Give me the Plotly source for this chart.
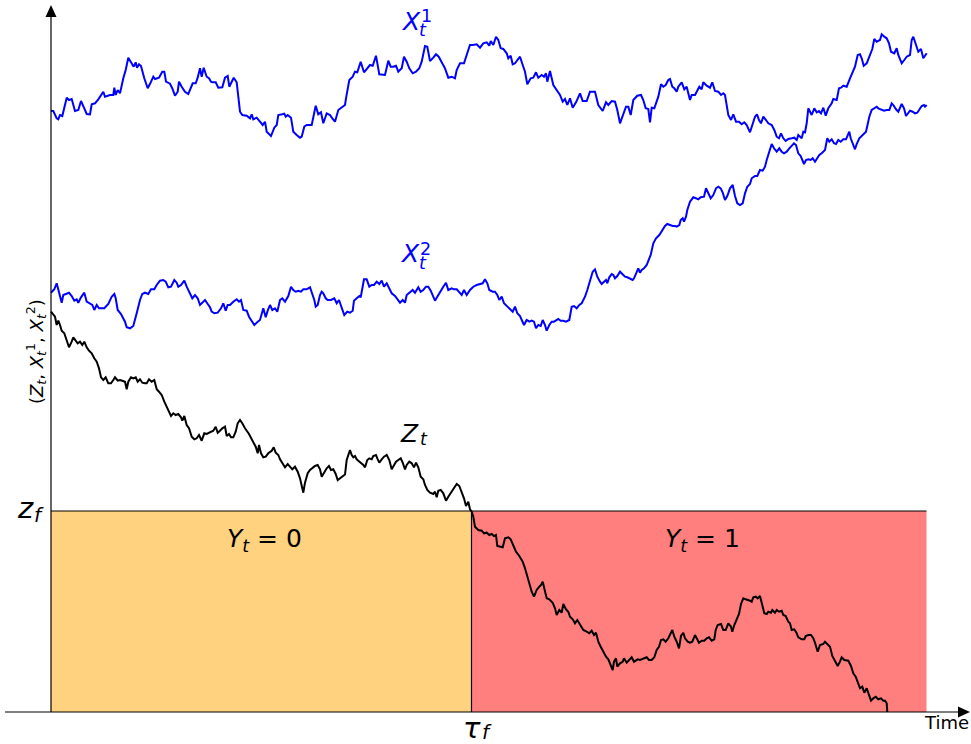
import plotly.graph_objects as go

# Paths as (time step, value); time runs 0..876, value 0 is the time axis
X1_PATH = [
    (0, 601), (2.3, 601), (5.7, 593.7), (7.3, 592.7), (9, 597), (11.3, 596), (15.7, 614.3), (18, 612),
    (20.7, 613), (24, 601), (27.3, 602), (30, 611), (33.3, 603.7), (35.7, 598), (39, 597.7), (40.7, 607.7),
    (44, 608.7), (47.3, 612.7), (52.3, 620.3), (54, 615.3), (59, 617), (62.3, 617), (63.3, 624.3), (64.7, 617),
    (66.7, 622), (69, 618.7), (72.3, 633.7), (74.7, 642), (77.3, 654.3), (80.7, 648.7), (82.7, 645.3),
    (84.7, 649.7), (86, 644.3), (88, 647.7), (90, 646), (93.3, 633.7), (96.7, 623.7), (99.3, 628.7),
    (102.3, 635.3), (104, 633), (108, 634.3), (111.3, 640.3), (113.3, 640.3), (115, 630.3), (119, 628.3),
    (121.3, 623.7), (124, 616.3), (126.7, 620.3), (128, 630.3), (130.7, 625.3), (134, 620.3), (137.3, 618),
    (141.7, 628.7), (144.7, 628.7), (146.7, 634.3), (149, 643.7), (150.7, 635.3), (152.7, 644.3),
    (155.7, 635.3), (158, 633.7), (160, 630.3), (161.3, 629.7), (164.7, 629.7), (167.3, 624.3),
    (171.3, 624.7), (174, 634.3), (176.7, 636), (178.3, 625.3), (180.7, 630.3), (182.7, 634.3),
    (185.7, 629.7), (189, 600.3), (191.3, 597), (195.7, 596.3), (199, 593.7), (200.7, 597.7), (202.3, 592.7),
    (205.7, 594.3), (209, 590.3), (211.7, 587), (214, 590.3), (215.7, 580.3), (220, 576), (223.3, 584.3),
    (225.7, 587), (227.3, 597), (231.3, 597.7), (233.3, 598.3), (234.7, 595.3), (236.7, 597), (240, 594.3),
    (242.3, 580.3), (245.7, 577), (249, 574.3), (250.7, 575.3), (253.3, 585.3), (255.7, 587), (260.7, 587),
    (264.7, 606.3), (267.3, 597.7), (270, 599.7), (272.3, 588.7), (275.7, 598.7), (279, 597), (281.3, 593.7),
    (284, 590.3), (287.3, 602), (290.7, 604.3), (294, 607), (295, 613.7), (298.3, 632), (301.7, 635.3),
    (304, 640.3), (306.3, 639.7), (309.7, 650.3), (313, 639.7), (316.3, 643.7), (319, 647), (321.7, 646.3),
    (325, 656.3), (328.3, 637.7), (334, 637), (337.3, 651.3), (339.7, 645.3), (342.3, 645.3), (345, 646.3),
    (347.3, 640.3), (350.7, 643.7), (353, 655.3), (355.7, 650.3), (358.3, 643.7), (361.7, 638.7), (365, 640.3),
    (368.3, 643.7), (370.7, 650.3), (374, 666), (376.3, 665.3), (379, 651), (382.3, 654.3), (385, 657.7),
    (387.7, 655.3), (390.7, 650.3), (394, 643.7), (397.3, 634.3), (400.7, 635.3), (404, 633.7), (405.7, 642),
    (409, 648.7), (413, 648.7), (417.3, 662), (419, 667), (421.7, 667), (425.7, 667.7), (429, 664.3),
    (432.3, 668.7), (435.7, 669.7), (438.3, 666.3), (439.7, 671), (442.3, 667), (445, 675.3), (447.3, 672),
    (449.7, 663.7), (452.3, 663), (455.7, 658.7), (457.3, 653.7), (459.7, 656.3), (461.7, 647.7), (464, 648.7),
    (467.3, 653.7), (469, 655.3), (471.7, 647), (474, 640.3), (476.3, 627.7), (479.7, 633.7), (482.3, 634.3),
    (485, 639.7), (487.3, 634.3), (490.7, 637), (493, 635.3), (495, 638.7), (496.3, 630.3), (499, 641),
    (502.3, 627), (505.7, 622), (509, 617), (511.7, 610.3), (514, 613), (516.3, 607), (519, 613.7),
    (521.7, 604.3), (525, 609.7), (529, 618.7), (531.7, 611), (535.7, 611), (539, 620.3), (544, 620.3),
    (547.3, 607), (551.7, 601), (555, 609.7), (557.3, 607), (560.7, 611), (564, 610.3), (566.3, 602),
    (569, 588.7), (571.7, 596.3), (575, 605.3), (577.3, 605.3), (579.7, 597), (582.3, 612), (586.3, 616.3),
    (590, 617), (592.3, 612), (594.7, 603.7), (597.3, 603), (599, 589.7), (600.7, 604.3), (603.3, 603.7),
    (605.7, 610.3), (607.3, 615.3), (610, 627.7), (612.3, 625.3), (614.7, 627), (617.3, 632), (619, 633),
    (621.3, 625.3), (623.3, 623.7), (625.7, 620.3), (627.3, 625.3), (630.7, 629.7), (633.3, 622.7),
    (635.7, 625.3), (637.3, 618.7), (639, 612), (640.7, 617), (644, 617), (645.7, 620.3), (648.3, 625.3),
    (650.7, 622.7), (652.3, 629.7), (655.7, 626.3), (659, 624.3), (661.3, 629.7), (664, 621), (667.3, 620.3),
    (670, 617), (672.3, 618.7), (674, 617), (677.3, 597), (680, 592), (682.3, 597.7), (685, 590.3),
    (688, 590.3), (690.7, 587.7), (693.3, 589.7), (695.7, 587), (699, 579.7), (701.3, 587), (704, 595.3),
    (706, 597.7), (708, 592), (710, 588.7), (712.3, 595.3), (715, 592), (717.3, 588.7), (720.7, 587),
    (723.3, 582), (725.7, 575.3), (728, 573.7), (730, 578.7), (732.3, 573.7), (734.7, 571), (737.3, 573),
    (740.7, 573.7), (743.3, 574.3), (745.7, 572), (747.3, 577), (750.7, 573.7), (752.3, 580.3), (754, 579.7),
    (755.7, 588.7), (757.3, 603.7), (759, 599.7), (760.7, 597), (763.3, 603.7), (765.7, 599.7), (768, 601),
    (770, 598.7), (772.3, 604.3), (774.7, 596.3), (777.3, 603.7), (780.7, 608.7), (782.3, 613), (785.7, 612),
    (788, 623.7), (790, 624.3), (792.3, 626.3), (795.7, 625.3), (799, 633.7), (804, 645.3), (806.7, 657),
    (809, 657.7), (810.7, 653.7), (812.7, 646.3), (815.7, 648.7), (819, 657.7), (821.3, 663), (823.3, 673),
    (825.7, 670.3), (829, 672), (830.7, 677.7), (833.3, 675.3), (835.7, 673.7), (838, 668.7), (840, 660.3),
    (843.3, 658.7), (845.7, 663.7), (847.3, 657), (850.7, 648.7), (853.3, 652), (855.7, 655.3), (859, 657),
    (860.7, 672), (862.3, 675.3), (864.7, 667), (867.3, 660.3), (870, 663), (872.3, 653.7), (875.7, 658.7),
]

X2_PATH = [
    (0, 419.3), (3.3, 422.7), (5.7, 428.7), (8, 418.7), (10.7, 409.3), (12.3, 417), (15.7, 418), (18, 419.3),
    (20.7, 416), (23.3, 411.3), (25.7, 412.7), (27.3, 409.3), (30, 414.7), (33.3, 419.3), (35.7, 410.3),
    (39, 408.7), (41.3, 407), (43.3, 402), (45.7, 407), (48, 403.7), (50.7, 403.7), (53.3, 403.7), (57.3, 408),
    (60.7, 415.3), (63.3, 418), (64.7, 413.7), (66.7, 402), (70, 398), (74, 390.3), (75.7, 384.7), (79, 383.7),
    (82.3, 386), (85.7, 398.7), (89, 412), (91.3, 418), (94, 419.3), (97.3, 418), (100, 422.7), (103.3, 422.7),
    (105.7, 427), (109, 431.3), (112.3, 432), (114.7, 430.3), (117.3, 424.7), (120, 425.3), (123.3, 432),
    (125.7, 429.3), (127.3, 425.3), (130, 427), (133.3, 431.3), (135.7, 425.3), (139, 418.7), (141.3, 413.7),
    (144, 417), (146.7, 413.7), (149, 407), (151.3, 409.3), (154, 412), (156.7, 408), (159, 404.7),
    (160.7, 400.3), (163.3, 398.7), (166.7, 399.3), (170, 403.7), (172.3, 408.7), (174.7, 401.3), (176.7, 407),
    (179, 407), (182.3, 410.3), (185.7, 412.7), (188, 410.3), (190, 412), (192.3, 402), (195.7, 401.3),
    (198, 395.3), (200.7, 390.3), (203.3, 387), (206.7, 390.3), (209, 392), (212.3, 403.7), (214.7, 394.7),
    (216.7, 401.3), (219, 407), (221.3, 402), (224, 403.7), (226.3, 400.3), (229, 412), (231.3, 413.7),
    (234, 410.3), (237.3, 416), (240, 425.3), (242.3, 422), (244.7, 420.3), (247.3, 421.3), (250, 420.3),
    (252.3, 422.7), (255.7, 422.7), (259, 424.7), (260.7, 420.3), (263.3, 412), (264.7, 405.3), (266.7, 407),
    (269, 417), (270.7, 420.3), (272.3, 418.7), (274.7, 413.7), (276.7, 412), (280, 412), (283.3, 413.7),
    (285.7, 408.7), (288, 412), (290.7, 403.7), (293.3, 397), (296.3, 400.3), (299, 399.3), (301.7, 401.3),
    (303, 411.3), (305.7, 413.7), (308.3, 416), (309.7, 414.7), (311.7, 425.3), (313, 432.7), (315.7, 432.7),
    (318.3, 425.3), (320.7, 427), (323, 427), (325.7, 430.3), (328.3, 428), (330.7, 431.3), (333, 425.3),
    (335.7, 428.7), (338.3, 422.7), (340.7, 418.7), (344, 416), (347.3, 412), (349, 409.3), (351.7, 412),
    (354, 409.3), (355.7, 417), (359, 420.3), (361.7, 422), (364, 419.3), (367.3, 424.7), (369.7, 420.3),
    (372.3, 422), (375, 425.3), (377.3, 425.3), (379.7, 421.3), (382.3, 415.3), (384, 411.3), (386.3, 415.3),
    (389, 420.3), (392.3, 425.3), (395, 429.3), (397.3, 422), (400.7, 423.7), (403, 422.7), (405.7, 422.7),
    (408.3, 419.3), (410.7, 417), (413, 422), (415.7, 417), (419, 422), (422.3, 425.3), (425.7, 427),
    (429, 428), (431.7, 428.7), (434, 432.7), (436.3, 428.7), (438.3, 422), (441.7, 420.3), (444, 420.3),
    (446.3, 417), (448.3, 412), (450.7, 415.3), (453, 408.7), (455.7, 406), (459, 403.7), (461.7, 400.3),
    (464, 405.3), (466.3, 398.7), (469, 396), (471.7, 390.3), (473, 387), (475.7, 392), (478.3, 390.3),
    (480.7, 391.3), (483, 390.3), (485, 383.7), (487.3, 387), (489.7, 386), (491.7, 392), (494, 387),
    (495.7, 381.3), (498.3, 387), (500.7, 390.3), (503, 390.3), (505.7, 392), (507.3, 393), (509.7, 391.3),
    (512.3, 391.3), (515, 390.3), (518.3, 392), (520.7, 405.3), (523, 406), (525.7, 403.7), (528.3, 407),
    (530.7, 408.7), (534, 415.3), (536.3, 422), (539, 430.3), (541.7, 440.3), (544, 442.7), (546.3, 435.3),
    (549, 430.3), (550.7, 428), (553, 430.3), (555, 432), (556.3, 428.7), (558.3, 434.7), (560.7, 438),
    (562.3, 437), (564, 433.7), (566.3, 436), (569, 440.3), (571.7, 437), (574, 435.3), (576.3, 434.7),
    (579, 433.7), (581.7, 432), (583, 433.7), (585.7, 440.3), (587.3, 443.7), (589, 439.3), (590.7, 442),
    (593, 443.7), (595.7, 447), (598.3, 453.7), (599.7, 457), (602.3, 468.7), (605, 473.7), (608.3, 477),
    (611.7, 482), (614, 486), (616.3, 488), (619, 487), (621.7, 486), (624, 486), (625.7, 485.3), (628.3, 487),
    (629.7, 492), (631.7, 493.7), (633, 490.3), (635, 495.3), (636.3, 502), (639, 510.3), (642.3, 514.7),
    (645, 513.7), (647.3, 512.7), (649.7, 514.7), (653, 515.3), (655, 523.7), (657.3, 518.7), (659.7, 513.7),
    (662.3, 517), (665, 523.7), (667.3, 525.3), (669.7, 523.7), (671.7, 519.3), (674, 512), (676.3, 516),
    (679, 523.7), (681.7, 527), (684, 516), (686.3, 508.7), (689, 507), (691.7, 508.7), (694, 518.7),
    (696.3, 525.3), (699, 528), (700.7, 533.7), (704, 536), (706.3, 536), (709, 542), (711.7, 541.3),
    (714, 545.3), (715.7, 552), (718.3, 561.3), (720.7, 568), (723, 563.7), (725.7, 560.3), (728.3, 563.7),
    (730.7, 560.3), (733, 558.7), (735.7, 560.3), (738.3, 563.7), (740.7, 566), (743, 568.7), (745, 567),
    (747.3, 558.7), (749.7, 556), (751.7, 552), (753, 548), (755, 552), (757.3, 552.7), (759.7, 552),
    (761.7, 553.7), (764, 550.3), (766.3, 553.7), (768.3, 557), (770.7, 558.7), (774, 562), (776.3, 573.7),
    (778.3, 570.3), (780.7, 572.7), (783, 568.7), (785, 568), (787.3, 572), (789.7, 570.3), (792.3, 572.7),
    (795, 572.7), (798.3, 580.3), (799.7, 573.7), (801.7, 568.7), (804, 562.7), (805.7, 568), (808.3, 573.7),
    (810.7, 576), (813, 578.7), (815, 580.3), (816.3, 586), (818.3, 595.3), (820.7, 602), (823, 603.7),
    (825.7, 605.3), (827.3, 603.7), (830.7, 602), (833, 601.3), (835.7, 602), (838.3, 602), (840.7, 608.7),
    (842.3, 607), (845, 602.7), (847.3, 600.3), (850.7, 608), (853, 603.7), (855, 596), (857.3, 598.7),
    (859, 601.3), (861.7, 600.3), (864, 598.7), (866.3, 599.3), (868.3, 602), (870.7, 606), (873, 607),
    (874, 605.3), (875.7, 607),
]

Z_PATH = [
    (0, 400.3), (2.3, 398), (4, 395.3), (5.7, 387), (7.3, 391.3), (9, 387), (10.7, 381.3), (13.3, 378.7),
    (15.7, 370.3), (18, 364.7), (20.7, 370.3), (22.3, 374.7), (24.7, 371.3), (26.7, 368.7), (29, 370.3),
    (31.3, 367), (33.3, 370.3), (35.7, 364.7), (38, 361.3), (40.7, 358.7), (43.3, 353.7), (45.7, 350.3),
    (48, 343.7), (50, 334.7), (52.3, 332), (54.7, 334.7), (57.3, 328.7), (60, 328.7), (62.3, 332), (64, 334.7),
    (66.7, 331.3), (69, 332), (71.3, 331.3), (74, 330.3), (75.7, 322.7), (77.3, 330.3), (80, 334.7),
    (82.3, 333.7), (84.7, 334.7), (86.7, 330.3), (89, 332.7), (91.3, 329.3), (94, 328.7), (95.7, 328.7),
    (98, 332.7), (100.7, 330.3), (103.3, 332), (105.7, 322.7), (108, 320.3), (110.7, 317), (113.3, 310.3),
    (115.7, 305.3), (118, 300.3), (120, 296), (122.3, 298.7), (124.7, 297), (127.3, 298), (130, 294.7),
    (131.3, 291.3), (133.3, 296), (135.7, 287), (138, 283.7), (140.7, 275.3), (143.3, 272.7), (145.7, 273.7),
    (148, 277), (150.7, 271.3), (153.3, 278.7), (155.7, 278), (158, 279.3), (160, 280.3), (162.3, 281.3),
    (164.7, 285.3), (166.7, 279.3), (169, 281.3), (171.3, 283.7), (174, 285.3), (175.7, 276), (178, 278),
    (180, 274.7), (182.3, 274.7), (184.7, 280.3), (186.7, 288.7), (189, 292), (191.3, 288.7), (194, 283.7),
    (198, 278), (202.3, 270.3), (204.7, 265.3), (206.7, 258.7), (208, 267), (210, 258.7), (212.3, 254.7),
    (214.7, 255.3), (217.3, 258.7), (220.7, 261.3), (222.7, 264.7), (224.7, 259.3), (227.3, 257),
    (229, 252.7), (231.3, 248.7), (234, 244.7), (236.7, 248), (239, 245.3), (241.3, 242.7), (244, 245.3),
    (246.7, 240.3), (249, 233.7), (250.7, 227), (252.3, 219.3), (254, 229.3), (256.7, 238.7), (259, 242),
    (261.3, 243.7), (264, 246), (266.7, 247), (269, 242.7), (270.7, 235.3), (273.3, 240.3), (275.7, 243.7),
    (278, 246), (280, 242), (282.3, 242.7), (284.7, 238), (286.7, 232), (289, 233.7), (291.3, 234.7),
    (294, 237.5), (295.7, 252), (297.3, 257), (299, 262), (300.7, 257), (302.3, 254.7), (304, 256),
    (305.7, 252.7), (307.3, 251.3), (309.7, 249.3), (312.3, 247), (314, 244.7), (316.3, 252), (318.3, 253.7),
    (320.7, 252.7), (322.3, 256), (325, 257), (326.3, 253.7), (328.3, 249.3), (330.7, 252.7), (333, 255.3),
    (335.7, 257), (338.3, 252), (340.7, 242.7), (342.3, 245.3), (345, 250.3), (347.3, 252), (349.7, 253.7),
    (351.7, 249.3), (354, 242.7), (355.7, 247), (358.3, 250.3), (360.7, 248.7), (363, 244.7), (365, 249.3),
    (367.3, 244.7), (369.7, 235.3), (372.3, 232.7), (374, 227), (376.3, 222), (379, 219.3), (382.3, 218),
    (384, 220.3), (385.7, 214.7), (387.3, 221.3), (389.7, 222), (392.3, 218.7), (395, 211.3), (397.3, 215.3),
    (400.7, 220.3), (404, 225.3), (405.7, 228), (408.3, 226), (410.7, 220.3), (413, 213.7), (415, 206),
    (417.3, 210.3), (419, 202.7), (420.7, 200.3), (422.3, 195.3), (424, 185.3), (427.3, 182), (430.7, 181.3),
    (433, 178.7), (435.7, 179.3), (438.3, 177), (440.7, 178), (443, 176), (445, 177), (446.3, 166),
    (449, 165.3), (451.7, 164.7), (454, 173.7), (457.3, 174.7), (459.7, 172.7), (462.3, 167), (465, 160.3),
    (468.3, 156), (471.7, 150.3), (474, 143.7), (475.7, 137), (478.3, 128.7), (480.7, 120.3), (483, 115.3),
    (485.7, 122), (488.3, 125.3), (490, 127), (491.7, 130.3), (493, 123.7), (495.7, 113.7), (498.3, 112.7),
    (501.7, 109.3), (504, 103.7), (505.7, 97), (508.3, 102), (510.7, 99.3), (512.3, 108), (515, 102.7),
    (517.3, 100.3), (519, 95.3), (521.7, 92.7), (524, 88.7), (526.3, 92), (528.3, 88.7), (530.7, 85.3),
    (532.3, 82), (535.7, 80.3), (538.3, 78.7), (540.7, 81.3), (543, 77), (545, 79.3), (547.3, 70.3),
    (549.7, 65.3), (552.3, 60.3), (555, 55.3), (557.3, 52.7), (559.7, 47), (561.7, 42), (563, 50.3),
    (565, 53.7), (566.3, 45.3), (569, 48.7), (571.7, 50.3), (573, 53.7), (575.7, 49.3), (578.3, 52.7),
    (580.7, 54.7), (583, 50.3), (586.7, 52.7), (589, 52), (592.3, 53.7), (595.7, 54.7), (598, 52),
    (600.7, 52), (603.3, 54.7), (605.7, 62), (608, 65.3), (610, 72), (612.3, 72.7), (614.7, 70.3),
    (617.3, 73.7), (620, 78.7), (621.3, 82), (623.3, 75.3), (625.7, 70.3), (628, 63.7), (630, 76),
    (632.3, 79.3), (634, 73.7), (636.7, 70.3), (639, 69.3), (641.3, 70.3), (644, 77), (645.7, 73.7),
    (648, 69.3), (650.7, 71.3), (653.3, 71.3), (655.7, 73.7), (658, 74.7), (660.7, 71.3), (663.3, 72.7),
    (664.7, 82), (666.7, 87), (670, 88), (672.3, 82), (674.7, 82), (677.3, 88.7), (680, 85.3), (681.3, 80.3),
    (683.3, 87), (685.7, 92.7), (688, 98), (690, 108), (692.3, 113.7), (694.7, 112.7), (697.3, 112),
    (699, 111.3), (700.7, 110.3), (702.3, 114.7), (704.7, 115.3), (706.7, 113.7), (709, 116), (710, 111.3),
    (711.3, 105.3), (713.3, 98.7), (715.7, 98), (717.3, 100.3), (720, 99.3), (721.3, 102), (724, 99.3),
    (725.7, 102), (728, 100.3), (730.7, 101.3), (732.3, 97), (734.7, 96), (737.3, 90.3), (739, 88.7),
    (740.7, 82), (743.3, 82.7), (745.7, 78.7), (747.3, 74.7), (750.7, 72.7), (753.3, 72.7), (754.7, 76),
    (757.3, 77), (760, 77), (762.3, 73.7), (764, 69.3), (766.7, 60.3), (769, 67), (772.3, 68), (774, 70.3),
    (776.7, 67), (779, 65.3), (781.3, 56), (784, 50.3), (786.7, 46), (789, 50.3), (790.7, 54.7), (793.3, 52),
    (797.3, 51.3), (800, 46), (802.3, 38.7), (804.7, 35.3), (806.7, 30.3), (809, 23.7), (811.3, 25.3),
    (813.3, 19.3), (815.7, 23.7), (818, 18), (820, 11.3), (822.3, 13.7), (824.7, 15.3), (827.3, 12.7),
    (830, 13.7), (832.3, 11.3), (834, 11.3), (835.7, 8.7), (836.3, 0),
]

Z_F = 201       # threshold z_f
TAU_F = 420.5   # first time Z_t goes below z_f
T_END = 875.5   # end of the simulated window

FONT = 'DejaVu Sans'
BLUE = '#0000ff'

fig = go.Figure()

# Y_t = 0 / Y_t = 1 regions
fig.add_shape(type='rect', x0=0, x1=TAU_F, y0=0, y1=Z_F, fillcolor='rgba(255,165,0,0.5)',
              line_width=0, layer='below')
fig.add_shape(type='rect', x0=TAU_F, x1=T_END, y0=0, y1=Z_F, fillcolor='rgba(255,0,0,0.5)',
              line_width=0, layer='below')
fig.add_shape(type='line', x0=0, x1=T_END, y0=Z_F, y1=Z_F, line=dict(color='black', width=1.2))
fig.add_shape(type='line', x0=TAU_F, x1=TAU_F, y0=0, y1=Z_F, line=dict(color='black', width=1.2))

# hand-drawn axes with arrow heads
fig.add_shape(type='line', x0=0, x1=0, y0=0, y1=698, line=dict(color='black', width=1.2))
fig.add_shape(type='path', path='M -5.5,695 L 5.5,695 L 0,707 Z', fillcolor='black', line_width=0)
fig.add_shape(type='line', x0=-46, x1=910, y0=0, y1=0, line=dict(color='black', width=1.2))
fig.add_shape(type='path', path='M 907,5.5 L 907,-5.5 L 919,0 Z', fillcolor='black', line_width=0)

for path, color in [(X1_PATH, BLUE), (X2_PATH, BLUE), (Z_PATH, 'black')]:
    fig.add_trace(go.Scatter(x=[p[0] for p in path], y=[p[1] for p in path], mode='lines',
                             line=dict(color=color, width=2), hoverinfo='skip'))


def label(text, x, y, size, color='black', angle=0):
    fig.add_annotation(x=x, y=y, text=text, showarrow=False, xanchor='center', yanchor='middle',
                       textangle=angle, font=dict(family=FONT, size=size, color=color))


# X_t^1, X_t^2, Z_t with stacked sub/superscripts
label('<i>X</i>', 360, 691, 25, BLUE)
label('1', 375.3, 696, 17.5, BLUE)
label('<i>t</i>', 372.3, 682, 17.5, BLUE)
label('<i>X</i>', 359, 459, 25, BLUE)
label('2', 374.3, 463, 17.5, BLUE)
label('<i>t</i>', 372, 449.5, 17.5, BLUE)
label('<i>Z</i>', 358, 278.5, 25)
label('<i>t</i>', 372.7, 273, 17.5)

label('<i>Y</i><sub><i>t</i></sub> = 0', 213, 172, 25)
label('<i>Y</i><sub><i>t</i></sub> = 1', 651, 172, 25)

# z_f and tau_f marks on the axes
label('<i>z</i>', -26, 204, 29)
label('<i>f</i>', -12, 197, 20)
label('<i>τ</i>', 421, -16, 29)
label('<i>f</i>', 436, -19.5, 20)
label('Time', 895, -10, 18)
label('(<i>Z</i><sub><i>t</i></sub>, <i>X</i><sub><i>t</i></sub><sup>1</sup>, '
      '<i>X</i><sub><i>t</i></sub><sup>2</sup>)', -15, 360, 18, angle=-90)

fig.update_layout(width=971, height=744, margin=dict(l=0, r=0, t=0, b=0),
                  paper_bgcolor='white', plot_bgcolor='white', showlegend=False,
                  xaxis=dict(visible=False, range=[-51, 920]),
                  yaxis=dict(visible=False, range=[-32, 712]))
fig.write_html("out.html", config={'displayModeBar': False},
               post_script="document.body.style.margin = '0';")
